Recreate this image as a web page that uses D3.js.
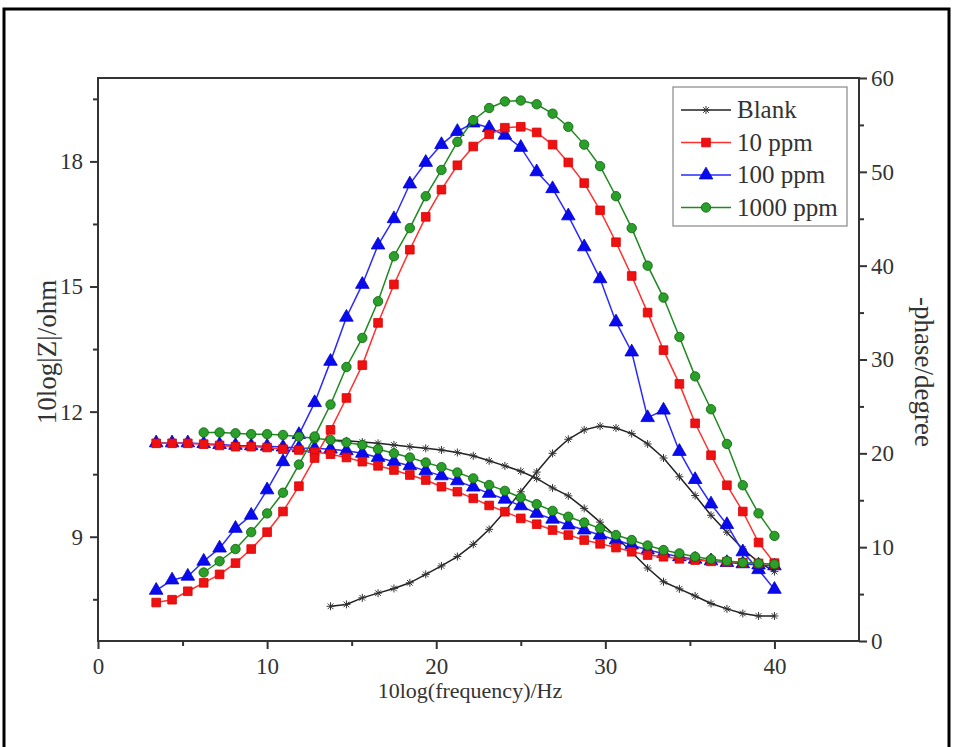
<!DOCTYPE html>
<html>
<head>
<meta charset="utf-8">
<script src="https://cdn.jsdelivr.net/npm/d3@7"></script>
<style>
  body { margin: 0; background: #fff; }
  svg { display: block; }
  text { font-family: "Liberation Serif", "Times New Roman", serif; fill: #333; }
</style>
</head>
<body>
<div id="chart"></div>
<script>
// 10log(frequency) grid shared by all measurements
const logFreq = [3.44, 4.38, 5.31, 6.25, 7.19, 8.13, 9.06, 10.0, 10.94, 11.88,
  12.81, 13.75, 14.69, 15.63, 16.56, 17.5, 18.44, 19.38, 20.31, 21.25,
  22.19, 23.13, 24.06, 25.0, 25.94, 26.88, 27.81, 28.75, 29.69, 30.63,
  31.56, 32.5, 33.44, 34.38, 35.31, 36.25, 37.19, 38.13, 39.06, 40.0]

// first index of logFreq used by each run
const seriesNames = ['Blank', '10 ppm', '100 ppm', '1000 ppm']
const startIndex = [11, 0, 0, 3]

// 10log|Z| (left axis)
const blankZ = [11.32, 11.3, 11.27, 11.24, 11.2, 11.16, 11.12, 11.08, 11.02, 10.94,
  10.82, 10.7, 10.57, 10.4, 10.17, 9.98, 9.68, 9.35, 9.0, 8.63,
  8.25, 7.92, 7.75, 7.58, 7.4, 7.27, 7.16, 7.1, 7.1]
const ppm10Z = [11.24, 11.24, 11.24, 11.22, 11.19, 11.16, 11.16, 11.14, 11.1, 11.08,
  11.03, 10.98, 10.9, 10.8, 10.7, 10.6, 10.48, 10.36, 10.2, 10.08,
  9.92, 9.75, 9.6, 9.44, 9.3, 9.16, 9.04, 8.92, 8.83, 8.74,
  8.64, 8.56, 8.52, 8.47, 8.44, 8.41, 8.4, 8.38, 8.36, 8.34]
const ppm100Z = [11.25, 11.25, 11.25, 11.23, 11.21, 11.19, 11.18, 11.17, 11.15, 11.13,
  11.12, 11.1, 11.06, 11.0, 10.9, 10.8, 10.7, 10.58, 10.46, 10.34,
  10.19, 10.04, 9.9, 9.74, 9.56, 9.42, 9.28, 9.16, 9.04, 8.92,
  8.8, 8.68, 8.6, 8.52, 8.46, 8.42, 8.38, 8.35, 8.32, 8.3]
const ppm1000Z = [11.5, 11.5, 11.48, 11.46, 11.46, 11.44, 11.4, 11.36, 11.32, 11.26,
  11.2, 11.1, 11.0, 10.9, 10.78, 10.67, 10.54, 10.4, 10.24, 10.1,
  9.94, 9.78, 9.62, 9.48, 9.34, 9.2, 9.04, 8.92, 8.79, 8.68,
  8.6, 8.52, 8.46, 8.42, 8.38, 8.36, 8.34]

// -phase in degrees (right axis)
const blankPhase = [3.7, 3.9, 4.6, 5.1, 5.6, 6.2, 7.1, 8.0, 9.0, 10.3,
  11.9, 13.8, 15.9, 18.0, 20.0, 21.5, 22.5, 22.9, 22.7, 22.1,
  21.0, 19.5, 17.5, 15.5, 13.4, 11.6, 9.8, 8.4, 7.4]
const ppm10Phase = [4.1, 4.4, 5.3, 6.2, 7.1, 8.3, 9.8, 11.6, 13.8, 16.5,
  19.5, 22.5, 25.9, 29.4, 33.9, 38.0, 41.7, 45.2, 48.1, 50.7,
  52.7, 54.0, 54.7, 54.8, 54.2, 52.9, 51.0, 48.8, 45.9, 42.5,
  38.9, 35.0, 31.0, 27.4, 23.2, 19.8, 16.6, 13.8, 10.5, 8.3]
const ppm100Phase = [5.4, 6.5, 6.9, 8.5, 9.9, 12.0, 13.4, 16.1, 19.1, 22.0,
  25.4, 29.8, 34.5, 38.0, 42.2, 45.0, 48.7, 51.0, 52.9, 54.3,
  55.2, 54.7, 53.9, 52.6, 50.0, 48.2, 45.3, 42.0, 38.6, 34.0,
  30.8, 23.8, 24.6, 20.2, 17.2, 14.6, 12.4, 9.5, 7.6, 5.5]
const ppm1000Phase = [7.3, 8.5, 9.8, 11.6, 13.6, 15.8, 18.8, 21.8, 25.2, 29.2,
  32.3, 36.2, 41.0, 44.0, 47.4, 50.2, 53.2, 55.5, 56.8, 57.5,
  57.6, 57.2, 56.2, 54.8, 52.9, 50.6, 47.4, 44.0, 40.0, 36.6,
  32.4, 28.2, 24.7, 21.0, 16.6, 13.6, 11.2]

const zTicks = [9, 12, 15, 18]
const phaseTicks = [0, 10, 20, 30, 40, 50, 60]
const freqTicks = [0, 10, 20, 30, 40]

const width = 953, height = 747
const mLeft = 98, mRight = 859, mTop = 78, mBottom = 641

var svg = d3.select('#chart').append('svg')
  .attr('width', width)
  .attr('height', height)

// outer frame
svg.append('rect')
  .attr('x', 4).attr('y', 9)
  .attr('width', 945).attr('height', 760)
  .attr('fill', 'none').attr('stroke', '#000').attr('stroke-width', 3)

var x = d3.scaleLinear().domain([0, 45]).range([mLeft, mRight])
var yZ = d3.scaleLinear().domain([6.5, 20]).range([mBottom, mTop])
var yP = d3.scaleLinear().domain([0, 60]).range([mBottom, mTop])

// axes
var axisColor = '#333'
function styleAxis(g) {
  g.select('.domain').remove()
  g.selectAll('.tick line').attr('stroke', axisColor).attr('stroke-width', 2)
  g.selectAll('.tick text').attr('font-size', 23).attr('fill', '#333')
    .attr('font-family', '"Liberation Serif", "Times New Roman", serif')
}

// minor ticks first
svg.append('g').attr('transform', 'translate(' + mLeft + ',0)')
  .call(d3.axisLeft(yZ).tickValues([7.5, 10.5, 13.5, 16.5, 19.5]).tickSize(5).tickFormat(''))
  .call(styleAxis)
svg.append('g').attr('transform', 'translate(' + mRight + ',0)')
  .call(d3.axisRight(yP).tickValues([5, 15, 25, 35, 45, 55]).tickSize(5).tickFormat(''))
  .call(styleAxis)
svg.append('g').attr('transform', 'translate(0,' + mBottom + ')')
  .call(d3.axisBottom(x).tickValues([5, 15, 25, 35]).tickSize(5).tickFormat(''))
  .call(styleAxis)

svg.append('g').attr('transform', 'translate(' + mLeft + ',0)')
  .call(d3.axisLeft(yZ).tickValues(zTicks).tickSize(8).tickPadding(7))
  .call(styleAxis)
svg.append('g').attr('transform', 'translate(' + mRight + ',0)')
  .call(d3.axisRight(yP).tickValues(phaseTicks).tickSize(8).tickPadding(4))
  .call(styleAxis)
svg.append('g').attr('transform', 'translate(0,' + mBottom + ')')
  .call(d3.axisBottom(x).tickValues(freqTicks).tickSize(8).tickPadding(9))
  .call(styleAxis)

// frame of the plot
svg.append('rect')
  .attr('x', mLeft).attr('y', mTop)
  .attr('width', mRight - mLeft).attr('height', mBottom - mTop)
  .attr('fill', 'none').attr('stroke', axisColor).attr('stroke-width', 2)

// axis titles
svg.append('text')
  .attr('transform', 'translate(56,352) rotate(-90)')
  .attr('text-anchor', 'middle').attr('font-size', 27)
  .text('10log|Z|/ohm')
svg.append('text')
  .attr('transform', 'translate(915,372) rotate(90)')
  .attr('text-anchor', 'middle').attr('font-size', 27)
  .text('-phase/degree')
svg.append('text')
  .attr('x', 470).attr('y', 698)
  .attr('text-anchor', 'middle').attr('font-size', 22)
  .text('10log(frequency)/Hz')

// series
var styles = [
  { line: '#222', fill: '#333', stroke: '#333', symbol: 'star' },
  { line: '#ff3030', fill: '#ee1111', stroke: '#dd0000', symbol: d3.symbolSquare, size: 75 },
  { line: '#2a2aff', fill: '#0a0aee', stroke: '#0000cc', symbol: d3.symbolTriangle, size: 80 },
  { line: '#1f8a1f', fill: '#2aa02a', stroke: '#0c5e0c', symbol: d3.symbolCircle, size: 70 }
]
var zData = [blankZ, ppm10Z, ppm100Z, ppm1000Z]
var phaseData = [blankPhase, ppm10Phase, ppm100Phase, ppm1000Phase]

function pointsFor(i, values) {
  return values.map(function (v, j) { return [logFreq[startIndex[i] + j], v] })
}

var asterisk = {
  draw: function (context, size) {
    var r = Math.sqrt(size) / 2
    for (var k = 0; k < 4; k++) {
      var a = k * Math.PI / 4
      context.moveTo(-r * Math.cos(a), -r * Math.sin(a))
      context.lineTo(r * Math.cos(a), r * Math.sin(a))
    }
  }
}

function drawMarkers(g, i, pts, sx, sy) {
  var s = styles[i]
  var sym = s.symbol === 'star' ? d3.symbol().type(asterisk).size(64) : d3.symbol().type(s.symbol).size(s.size)
  g.selectAll('path.m').data(pts).enter().append('path')
    .attr('class', 'm')
    .attr('d', sym)
    .attr('transform', function (d) { return 'translate(' + sx(d[0]) + ',' + sy(d[1]) + ')' })
    .attr('fill', s.symbol === 'star' ? 'none' : s.fill)
    .attr('stroke', s.stroke)
    .attr('stroke-width', s.symbol === 'star' ? 1 : 0.8)
}

var order = [0, 2, 1, 3]
order.forEach(function (i) {
  var g = svg.append('g')
  var s = styles[i]
  var zPts = pointsFor(i, zData[i])
  var pPts = pointsFor(i, phaseData[i])
  var lineZ = d3.line().x(function (d) { return x(d[0]) }).y(function (d) { return yZ(d[1]) })
  var lineP = d3.line().x(function (d) { return x(d[0]) }).y(function (d) { return yP(d[1]) })
  g.append('path').attr('d', lineZ(zPts)).attr('fill', 'none').attr('stroke', s.line).attr('stroke-width', 1.5)
  g.append('path').attr('d', lineP(pPts)).attr('fill', 'none').attr('stroke', s.line).attr('stroke-width', 1.5)
  drawMarkers(g.append('g'), i, zPts, x, yZ)
  drawMarkers(g.append('g'), i, pPts, x, yP)
})

// legend
var legend = svg.append('g').attr('transform', 'translate(673,87)')
legend.append('rect')
  .attr('width', 174).attr('height', 139)
  .attr('fill', '#fff').attr('stroke', '#888').attr('stroke-width', 1.2)
seriesNames.forEach(function (name, i) {
  var s = styles[i]
  var yy = 23 + i * 32.5
  var row = legend.append('g').attr('transform', 'translate(0,' + yy + ')')
  row.append('line').attr('x1', 8).attr('x2', 58).attr('y1', 0).attr('y2', 0)
    .attr('stroke', s.line).attr('stroke-width', 1.5)
  drawMarkers(row, i, [[33, 0]], function (v) { return v }, function (v) { return v })
  row.append('text').attr('x', 64).attr('y', 8).attr('font-size', 25).text(name)
})
</script>
</body>
</html>
